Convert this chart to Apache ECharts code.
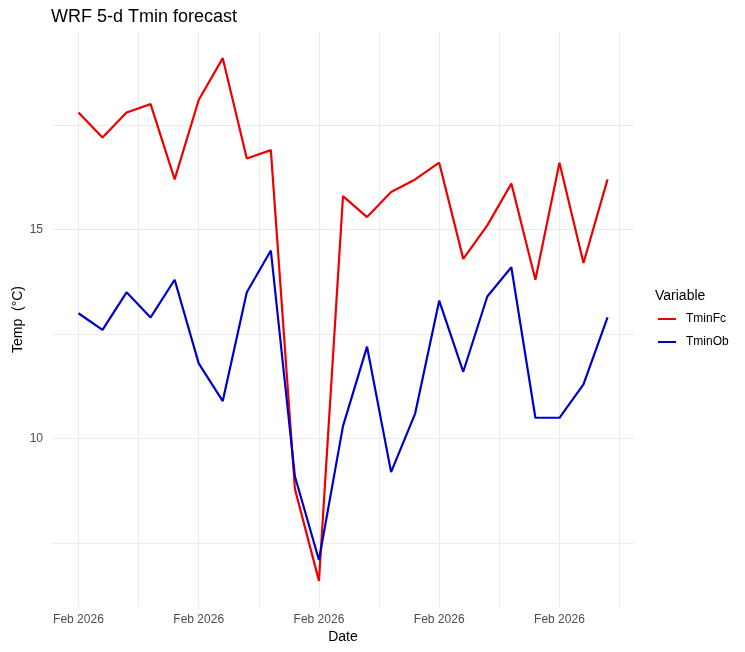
<!DOCTYPE html>
<html lang="en">
<head>
	<meta charset="UTF-8">
	<title>WRF 5-d Tmin forecast</title>
    <script src="https://cdn.jsdelivr.net/npm/echarts@6/dist/echarts.min.js"></script>
</head>
<body style="margin:0">
    <div id="main" style="width: 745px;height:652px;"></div>
    <script type="text/javascript">
        // daily dates (UTC)
        var dates = ['2026-02-01', '2026-02-02', '2026-02-03', '2026-02-04', '2026-02-05', '2026-02-06',
            '2026-02-07', '2026-02-08', '2026-02-09', '2026-02-10', '2026-02-11', '2026-02-12',
            '2026-02-13', '2026-02-14', '2026-02-15', '2026-02-16', '2026-02-17', '2026-02-18',
            '2026-02-19', '2026-02-20', '2026-02-21', '2026-02-22', '2026-02-23'];
        // forecast min temp
        var tminFc = [17.8, 17.2, 17.8, 18.0, 16.2, 18.1, 19.1, 16.7, 16.9, 8.8, 6.6, 15.8,
            15.3, 15.9, 16.2, 16.6, 14.3, 15.1, 16.1, 13.8, 16.6, 14.2, 16.2];
        // observed min temp
        var tminOb = [13.0, 12.6, 13.5, 12.9, 13.8, 11.8, 10.9, 13.5, 14.5, 9.1, 7.1, 10.3,
            12.2, 9.2, 10.6, 13.3, 11.6, 13.4, 14.1, 10.5, 10.5, 11.3, 12.9];
        // axis breaks
        var xBreaks = ['2026-02-01', '2026-02-06', '2026-02-11', '2026-02-16', '2026-02-21'];
        var xMinorBreaks = ['2026-02-03T12:00', '2026-02-08T12:00', '2026-02-13T12:00', '2026-02-18T12:00', '2026-02-23T12:00'];
        var yBreaks = [10, 15];
        var yMinorBreaks = [7.5, 12.5, 17.5];

        var months = ['Jan', 'Feb', 'Mar', 'Apr', 'May', 'Jun', 'Jul', 'Aug', 'Sep', 'Oct', 'Nov', 'Dec'];
        function ts(s) { return Date.parse(s + (s.length > 10 ? ':00Z' : 'T00:00:00Z')); }
        function pairs(vals) {
            return vals.map(function (v, i) { return [ts(dates[i]), v]; });
        }

        // ggplot style 5% expansion
        var x0 = ts(dates[0]), x1 = ts(dates[dates.length - 1]);
        var xPad = (x1 - x0) * 0.05;
        var allY = tminFc.concat(tminOb);
        var yLo = Math.min.apply(null, allY), yHi = Math.max.apply(null, allY);
        var yPad = (yHi - yLo) * 0.05;

        var font = 'Liberation Sans, Arial, sans-serif';
        var gridColor = '#ebebeb';

        var myChart = echarts.init(document.getElementById('main'));

        var option = {
            animation: false,
            backgroundColor: '#fff',
            textStyle: { fontFamily: font },
            title: [{
                text: 'WRF 5-d Tmin forecast',
                left: 46,
                top: 3,
                textStyle: { fontSize: 18, fontWeight: 'normal', color: '#000' }
            }, {
                text: 'Variable',
                left: 650,
                top: 284,
                textStyle: { fontSize: 14, fontWeight: 'normal', color: '#000' }
            }],
            legend: {
                orient: 'vertical',
                left: 658,
                top: 312,
                padding: 0,
                icon: 'rect',
                itemWidth: 18,
                itemHeight: 2,
                itemGap: 9,
                textStyle: { fontSize: 12, color: '#000', lineHeight: 14, padding: [0, 0, 0, 5] },
                data: ['TminFc', 'TminOb']
            },
            grid: { left: 52, right: 111, top: 32, bottom: 45, containLabel: false, outerBoundsMode: 'none' },
            xAxis: [{
                type: 'value',
                min: x0 - xPad,
                max: x1 + xPad,
                name: 'Date',
                nameLocation: 'middle',
                nameGap: 23,
                nameMoveOverlap: false,
                nameTextStyle: { fontSize: 14, color: '#000' },
                axisLine: { show: false },
                axisTick: { show: false, customValues: xBreaks.map(ts) },
                axisLabel: {
                    customValues: xBreaks.map(ts),
                    color: '#4d4d4d',
                    fontSize: 12,
                    margin: 7,
                    formatter: function (v) {
                        var d = new Date(v);
                        return months[d.getUTCMonth()] + ' ' + d.getUTCFullYear();
                    }
                },
                splitLine: { show: true, lineStyle: { color: gridColor, width: 1 } }
            }, {
                type: 'value',
                min: x0 - xPad,
                max: x1 + xPad,
                position: 'bottom',
                axisLine: { show: false },
                axisTick: { show: false, customValues: xMinorBreaks.map(ts) },
                axisLabel: { show: false, customValues: xMinorBreaks.map(ts) },
                splitLine: { show: true, lineStyle: { color: gridColor, width: 1 } }
            }],
            yAxis: [{
                type: 'value',
                min: yLo - yPad,
                max: yHi + yPad,
                name: 'Temp  (°C)',
                nameLocation: 'middle',
                nameGap: 27,
                nameMoveOverlap: false,
                nameTextStyle: { fontSize: 14, color: '#000' },
                axisLine: { show: false },
                axisTick: { show: false, customValues: yBreaks },
                axisLabel: { customValues: yBreaks, color: '#4d4d4d', fontSize: 12, margin: 9 },
                splitLine: { show: true, lineStyle: { color: gridColor, width: 1 } }
            }, {
                type: 'value',
                min: yLo - yPad,
                max: yHi + yPad,
                position: 'left',
                axisLine: { show: false },
                axisTick: { show: false, customValues: yMinorBreaks },
                axisLabel: { show: false, customValues: yMinorBreaks },
                splitLine: { show: true, lineStyle: { color: gridColor, width: 1 } }
            }],
            series: [{
                name: 'TminFc',
                type: 'line',
                data: pairs(tminFc),
                showSymbol: false,
                color: '#ee0000',
                lineStyle: { width: 2.2, color: '#ee0000' }
            }, {
                name: 'TminOb',
                type: 'line',
                data: pairs(tminOb),
                showSymbol: false,
                color: '#0000cd',
                lineStyle: { width: 2.2, color: '#0000cd' }
            }]
        };

        myChart.setOption(option);
    </script>
</body>
</html>
